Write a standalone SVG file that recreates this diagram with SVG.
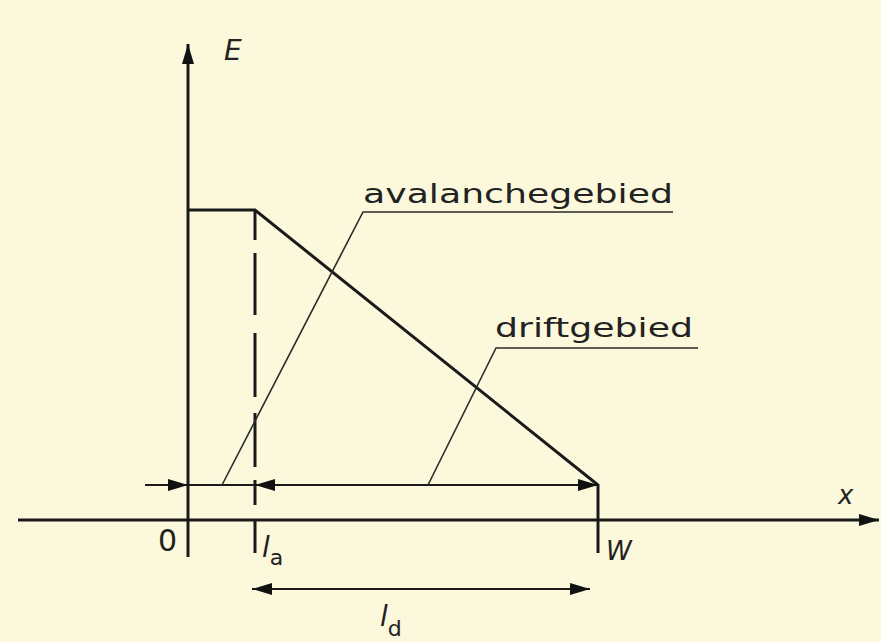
<svg xmlns="http://www.w3.org/2000/svg" width="881" height="642" viewBox="0 0 881 642">
<defs>
<style>
.ax{stroke:#1a1a1a;stroke-width:3;fill:none;stroke-linecap:butt}
.thin{stroke:#2a2a2a;stroke-width:1.6;fill:none}
.dim{stroke:#1a1a1a;stroke-width:2;fill:none}
.lbl{font-family:"DejaVu Sans","Liberation Sans",sans-serif;fill:#222}
.it{font-style:italic}
.ah{fill:#111}
</style>
<marker id="arr" markerUnits="userSpaceOnUse" markerWidth="22" markerHeight="14" refX="20" refY="7" orient="auto">
<path d="M0,1 L20,7 L0,13 Z" class="ah"/>
</marker>
<marker id="arrs" markerUnits="userSpaceOnUse" markerWidth="22" markerHeight="14" refX="20" refY="7" orient="auto-start-reverse">
<path d="M0,1 L20,7 L0,13 Z" class="ah"/>
</marker>
</defs>
<rect width="881" height="642" fill="#FBF8DC"/>

<g id="axes">
<line class="ax" x1="188" y1="557" x2="188" y2="44" marker-end="url(#arr)"/>
<line class="ax" x1="18" y1="520" x2="879" y2="520" marker-end="url(#arr)"/>
</g>

<g id="field-profile">
<polyline class="ax" points="188,210 255,210 598,485 598,553"/>
<path class="ax" d="M255,210 V240 M255,253 V315 M255,333 V397 M255,413 V467 M255,480 V505 M255,520 V553"/>
</g>

<g id="connectors">
<line class="dim" x1="145" y1="485" x2="598" y2="485"/>
<line class="dim" x1="165" y1="485" x2="188" y2="485" marker-end="url(#arr)"/>
<line class="dim" x1="280" y1="485" x2="255" y2="485" marker-end="url(#arr)"/>
<line class="dim" x1="560" y1="485" x2="598" y2="485" marker-end="url(#arr)"/>
<line class="dim" x1="252" y1="589" x2="590" y2="589" marker-start="url(#arrs)" marker-end="url(#arrs)"/>
<polyline class="thin" points="222,485 363,212 673,212"/>
<polyline class="thin" points="428,485 496,348 698,348"/>
</g>

<g id="labels">
<text class="lbl it" x="224" y="60" font-size="28">E</text>
<text class="lbl it" x="838" y="504" font-size="26">x</text>
<text class="lbl" x="158" y="551" font-size="30">0</text>
<text class="lbl it" x="262" y="557" font-size="28">l<tspan font-style="normal" font-size="22" dy="8">a</tspan></text>
<text class="lbl it" x="606" y="560" font-size="26">W</text>
<text class="lbl it" x="380" y="626" font-size="28">l<tspan font-style="normal" font-size="22" dy="10">d</tspan></text>
<text class="lbl" x="363" y="203" font-size="26" textLength="310" lengthAdjust="spacingAndGlyphs">avalanchegebied</text>
<text class="lbl" x="495" y="337" font-size="26" textLength="198" lengthAdjust="spacingAndGlyphs">driftgebied</text>
</g>
</svg>
